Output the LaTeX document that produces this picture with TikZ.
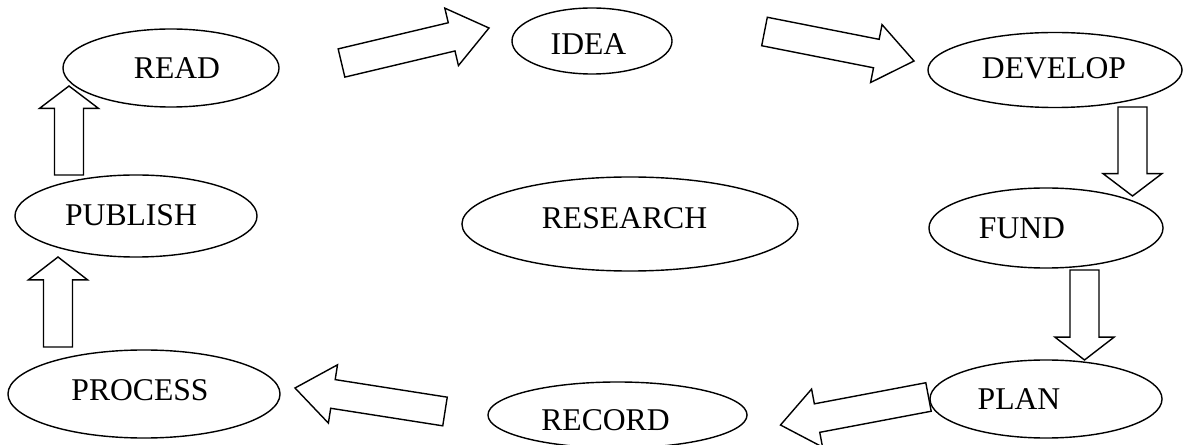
\documentclass[tikz,border=0pt]{standalone}
\usepackage{fontspec}
\setmainfont{Liberation Serif}
\usetikzlibrary{shapes.geometric, calc}

% half widths of the hollow block arrows
\newcommand{\shafthalf}{0.3625cm}
\newcommand{\headhalf}{0.7375cm}
% \blockarrow[head length]{tail}{tip}
\newcommand{\blockarrow}[3][0.96cm]{%
  \draw[blockarr] ($(#2)!\shafthalf!90:(#3)$)
    -- ($(#3)!#1!(#2)!\shafthalf!-90:(#2)$)
    -- ($(#3)!#1!(#2)!\headhalf!-90:(#2)$)
    -- (#3)
    -- ($(#3)!#1!(#2)!\headhalf!90:(#2)$)
    -- ($(#3)!#1!(#2)!\shafthalf!90:(#2)$)
    -- ($(#2)!\shafthalf!-90:(#3)$) -- cycle;}

\begin{document}
\begin{tikzpicture}[
    x=0.025cm, y=-0.025cm,
    stage/.style={
        ellipse,
        draw,
        line width=1pt,
        inner sep=0pt,
        fill=white,
    },
    word/.style={font=\fontsize{22.5}{27}\selectfont},
    blockarr/.style={draw, fill=white, line width=1pt, line join=miter},
]
\useasboundingbox (0,0) rectangle (1185,445);

\node[stage, minimum width=5.4cm, minimum height=1.95cm,
      label={[word, shift={(6,0)}]center:READ}] (read) at (171,68) {};
\node[stage, minimum width=4cm, minimum height=1.65cm,
      label={[word, shift={(-3.5,3)}]center:IDEA}] (idea) at (592,41) {};
\node[stage, minimum width=6.35cm, minimum height=1.875cm,
      label={[word, shift={(-1,-1.5)}]center:DEVELOP}] (develop) at (1055,70) {};
\node[stage, minimum width=5.85cm, minimum height=2cm,
      label={[word, shift={(-24,0.5)}]center:FUND}] (fund) at (1046,228) {};
\node[stage, minimum width=5.8cm, minimum height=1.95cm,
      label={[word, shift={(-27,0.5)}]center:PLAN}] (plan) at (1046,399) {};
\node[stage, minimum width=6.475cm, minimum height=1.65cm,
      label={[word, shift={(-12,5)}]center:RECORD}] (record) at (617.5,415) {};
\node[stage, minimum width=6.8cm, minimum height=2.2cm,
      label={[word, shift={(-4,-3.5)}]center:PROCESS}] (process) at (144,394) {};
\node[stage, minimum width=6.05cm, minimum height=2.05cm,
      label={[word, shift={(-5,-0.5)}]center:PUBLISH}] (publish) at (136,216) {};
\node[stage, minimum width=8.4cm, minimum height=2.35cm,
      label={[word, shift={(-5.5,-6)}]center:RESEARCH}] (research) at (630,224) {};

% arrow ends
\coordinate (readout)    at (341.5,63);
\coordinate (ideain)     at (489,28);
\coordinate (ideaout)    at (764.5,31.5);
\coordinate (developin)  at (914,61);
\coordinate (developout) at (1132.5,107);
\coordinate (fundin)     at (1132.5,196);
\coordinate (fundout)    at (1084.5,270);
\coordinate (planin)     at (1084.5,360);
\coordinate (planout)    at (928.5,397);
\coordinate (recordin)   at (780.5,425);
\coordinate (recordout)  at (445,411.5);
\coordinate (processin)  at (295,388);
\coordinate (processout) at (58,347);
\coordinate (publishin)  at (58,257);
\coordinate (publishout) at (69,175);
\coordinate (readin)     at (69,86);

\blockarrow{readout}{ideain}
\blockarrow{ideaout}{developin}
\blockarrow[0.56cm]{developout}{fundin}
\blockarrow[0.57cm]{fundout}{planin}
\blockarrow[0.93cm]{planout}{recordin}
\blockarrow{recordout}{processin}
\blockarrow[0.57cm]{processout}{publishin}
\blockarrow[0.56cm]{publishout}{readin}

\end{tikzpicture}
\end{document}
